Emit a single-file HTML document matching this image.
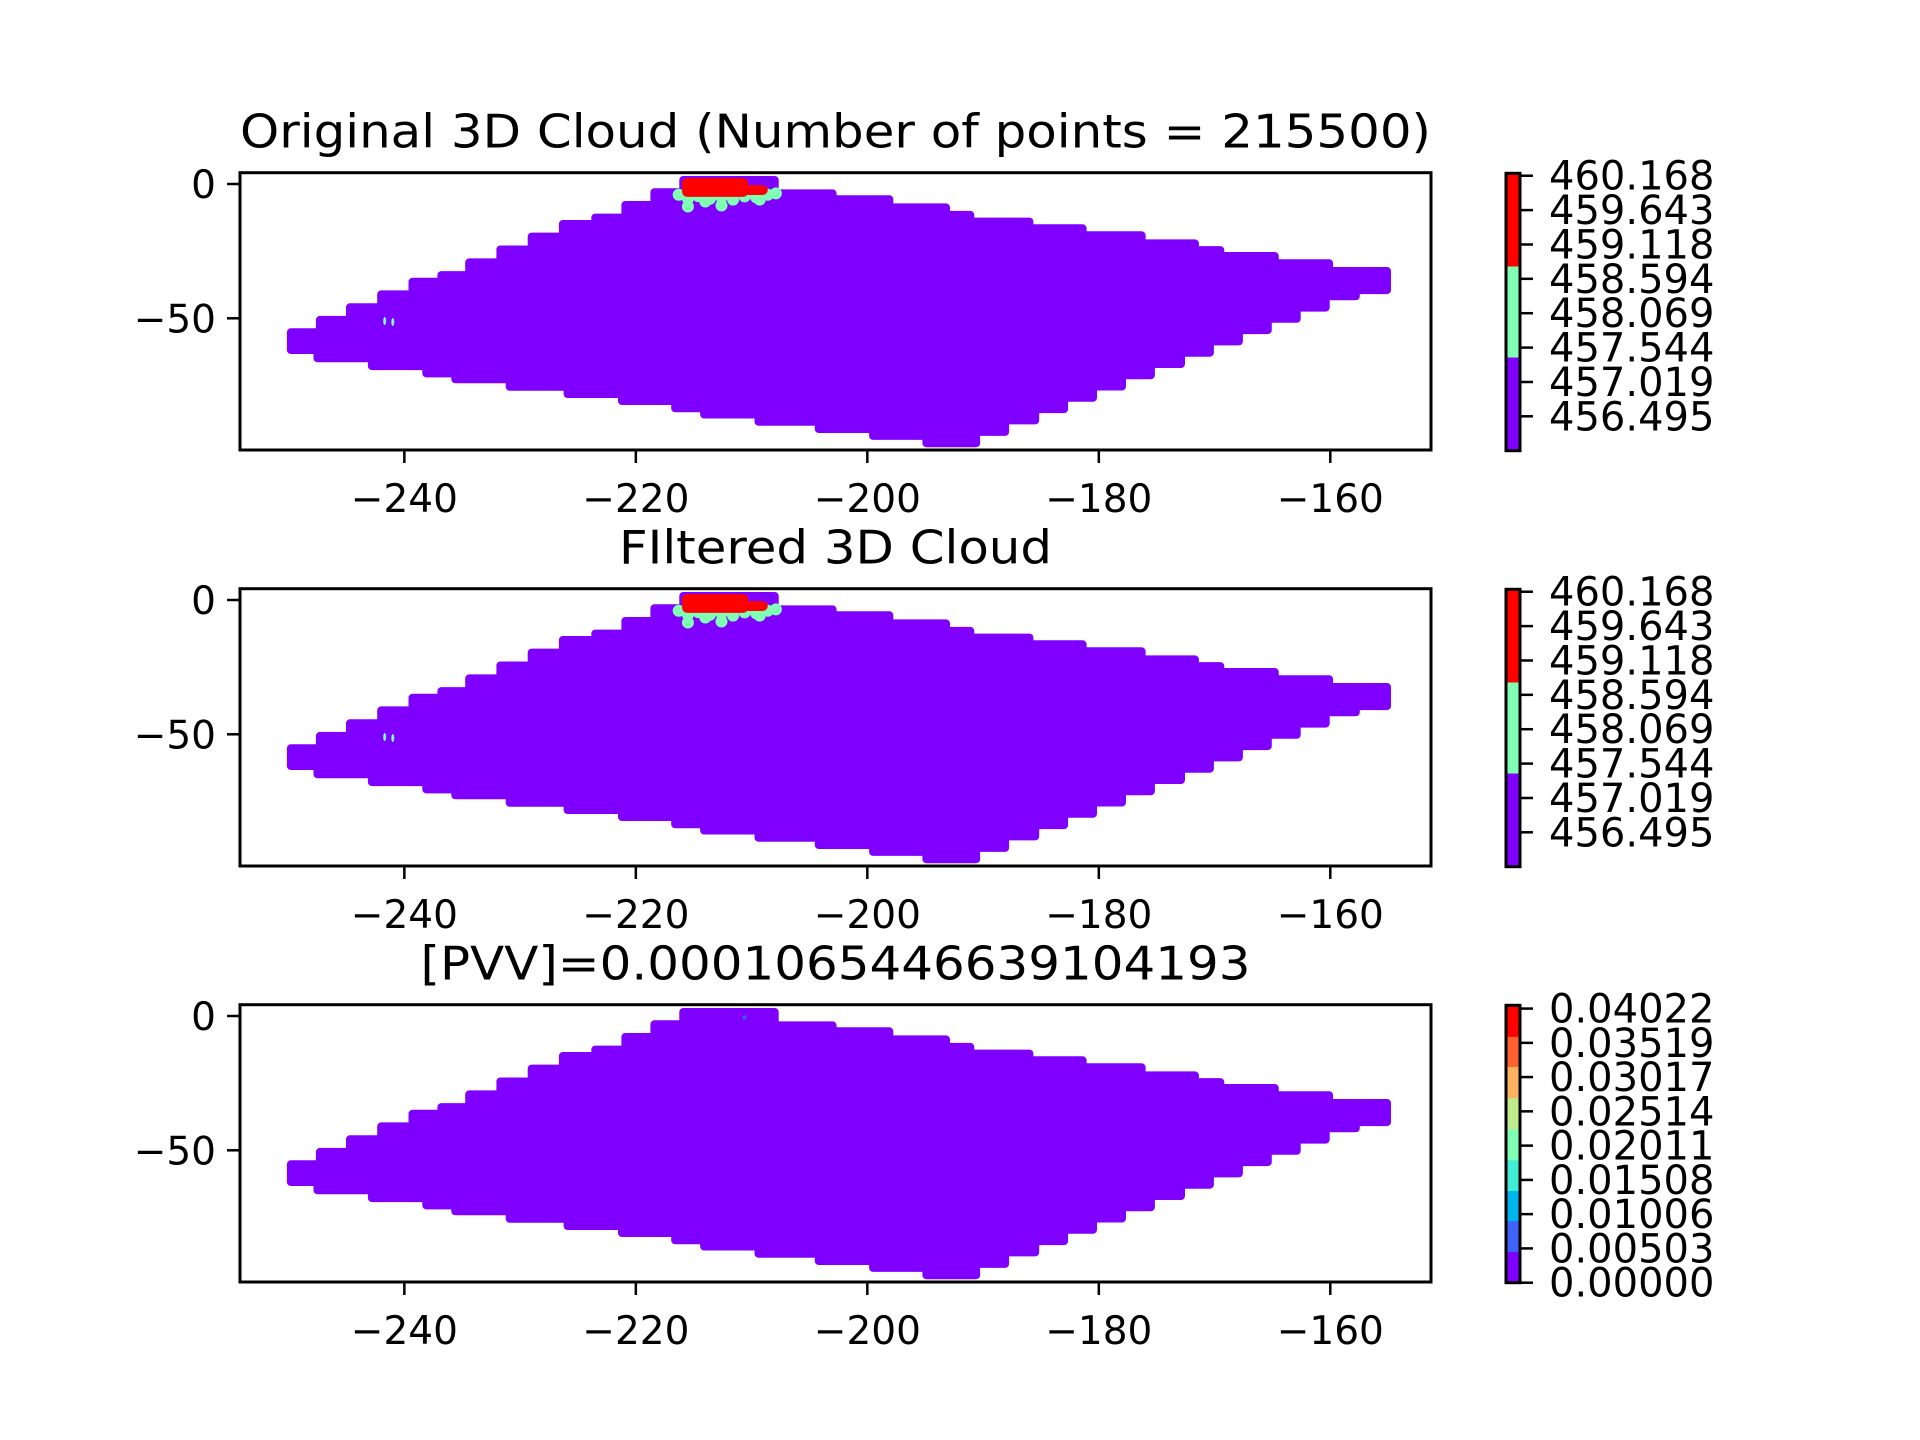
<!DOCTYPE html>
<html><head><meta charset="utf-8"><style>
html,body{margin:0;padding:0;background:#fff;}
svg{display:block;font-family:"DejaVu Sans","Liberation Sans",sans-serif;}
</style></head><body>
<svg id="fig" width="1920" height="1440" viewBox="0 0 1920 1440"></svg>
<script>
const xTicks=[-240,-220,-200,-180,-160];
const yTicks=[0,-50];
const panelTitles=["Original 3D Cloud (Number of points = 215500)","FIltered 3D Cloud","[PVV]=0.0001065446639104193"];
const cloudTopX=[-249.8,-247.3,-244.7,-242.0,-239.3,-236.8,-234.4,-231.7,-229.0,-226.3,-223.5,-220.9,-218.4,-208.0,-203.0,-198.1,-193.2,-191.1,-186.0,-181.4,-176.3,-171.7,-169.5,-164.8,-160.1];
const cloudTopY=[-55.2,-50.6,-45.9,-41.1,-36.4,-33.9,-29.2,-24.4,-19.6,-14.9,-12.5,-7.8,-3.1,-3.5,-5.7,-8.7,-11.5,-14.0,-16.5,-19.1,-22.1,-24.6,-26.8,-29.5,-32.4];
const cloudBotX=[-249.8,-247.5,-242.8,-238.1,-235.6,-230.9,-225.9,-221.2,-216.6,-214.1,-209.4,-204.2,-199.5,-194.9,-190.6,-188.1,-185.5,-183.0,-180.5,-178.0,-175.5,-172.9,-170.4,-167.9,-165.4,-162.9,-160.4,-157.8];
const cloudBotY=[-61.8,-64.9,-67.8,-70.5,-72.7,-75.5,-78.2,-80.8,-83.5,-85.8,-88.5,-91.2,-93.8,-96.5,-92.3,-88.0,-83.8,-79.6,-75.4,-71.2,-67.0,-62.8,-58.6,-54.4,-50.2,-46.0,-41.8,-39.5];
const cloudRightX=-155.1;
const peakTopY=1.5, peakX0=-215.9, peakX1=-208.0;
const redBlockX=[-216.0,-211.0];
const redBlockX2=[-210.3,-208.6];
const redBlockYTop=[2.2,-0.4];
const redBlockYBot=[-4.8,-4.1];
const greenX=[-216.3,-215.5,-214.6,-213.6,-212.6,-211.6,-210.6,-209.6,-208.6,-207.9,-215.5,-212.6,-209.3,-214.0];
const greenY=[-4.0,-5.5,-4.5,-5.5,-5.0,-5.8,-4.6,-5.0,-4.0,-3.5,-8.4,-8.0,-5.8,-6.5];
const smallGreenX=[-241.7,-241.0];
const smallGreenY=[-51.0,-51.4];
const cbTicks1=[460.168,459.643,459.118,458.594,458.069,457.544,457.019,456.495];
const cbBounds1=[455.97,457.40,458.79,460.205];
const cbColors1=["#8000ff","#80ffb4","#ff0000"];
const cbTicks3=[0.04022,0.03519,0.03017,0.02514,0.02011,0.01508,0.01006,0.00503,0.00000];
const cbBounds3=[0,0.00455,0.00911,0.01352,0.01803,0.02258,0.02714,0.03174,0.03615,0.0407];
const cbColors3=["#8000ff","#4062fa","#00b5eb","#40ecd3","#80ffb4","#c0eb8d","#ffb360","#ff6030","#ff0000"];

const NS="http://www.w3.org/2000/svg";
const svg=document.getElementById('fig');
function mk(tag,attrs,parent){const e=document.createElementNS(NS,tag);for(const k in attrs)e.setAttribute(k,attrs[k]);(parent||svg).appendChild(e);return e;}
const AX_L=240,AX_R=1431,XMIN=-254.2,XMAX=-151.3;
function sx(x){return AX_L+(x-XMIN)/(XMAX-XMIN)*(AX_R-AX_L);}
const PANEL_TOPS=[172.7,588.7,1004.7];
const AX_H=277.3;
function syF(top){return y=>top+11.3+(-y)*2.686;}
const titleW=[1191,433,830];

PANEL_TOPS.forEach((top,p)=>{
  const sy=syF(top);
  const g=mk('g',{});
  
  
  const cid='clip'+p;
  const cp=mk('clipPath',{id:cid},g);mk('rect',{x:AX_L,y:top,width:AX_R-AX_L,height:AX_H},cp);
  const t=mk('text',{x:(AX_L+AX_R)/2,y:top-25,'text-anchor':'middle','font-size':46,textLength:titleW[p],lengthAdjust:'spacingAndGlyphs'},g);
  t.textContent=panelTitles[p];
  
  
  let pts=[];
  pts.push([sx(cloudTopX[0]),sy(cloudBotY[0])]);
  for(let i=0;i<cloudTopX.length;i++){
    const nx=i+1<cloudTopX.length?cloudTopX[i+1]:cloudRightX;
    let ty=cloudTopY[i];
    if(i===12){
      pts.push([sx(cloudTopX[i]),sy(ty)]);pts.push([sx(peakX0),sy(ty)]);
      pts.push([sx(peakX0),sy(peakTopY)]);pts.push([sx(peakX1),sy(peakTopY)]);
      pts.push([sx(peakX1),sy(cloudTopY[i+1])]);continue;
    }
    pts.push([sx(cloudTopX[i]),sy(ty)]);pts.push([sx(nx),sy(ty)]);
  }
  const bot=[];
  for(let i=0;i<cloudBotX.length;i++){
    const nx=i+1<cloudBotX.length?cloudBotX[i+1]:cloudRightX;
    bot.push([sx(cloudBotX[i]),sy(cloudBotY[i])]);bot.push([sx(nx),sy(cloudBotY[i])]);
  }
  pts=pts.concat(bot.reverse());
  const cg=mk('g',{'clip-path':'url(#'+cid+')'},g);
  const poly=mk('polygon',{points:pts.map(q=>q[0].toFixed(1)+','+q[1].toFixed(1)).join(' '),fill:'#8000ff',stroke:'#8000ff','stroke-width':8,'stroke-linejoin':'round'},cg);
  
  
  if(p<2){
    for(let i=0;i<greenX.length;i++){
      const c=mk('circle',{cx:sx(greenX[i]),cy:sy(greenY[i]),r:6,fill:'#80ffb4'},cg);
      
      
    }
    for(let i=0;i<smallGreenX.length;i++){
      const c=mk('ellipse',{cx:sx(smallGreenX[i]),cy:sy(smallGreenY[i]),rx:1.5,ry:4,fill:'#80ffb4'},cg);
      
      
    }
    for(let i=0;i<redBlockX.length;i++){
      const x0=sx(redBlockX[i]),x1=sx(redBlockX2[i]),y0=sy(redBlockYTop[i]),y1=sy(redBlockYBot[i]);
      const r=mk('rect',{x:x0,y:y0,width:x1-x0,height:y1-y0,rx:5,fill:'#ff0000'},cg);
      
      
    }
  } else {
    const c=mk('circle',{cx:sx(-210.6),cy:sy(-0.5),r:2,fill:'#4062fa'},cg);
    
    
  }
  const fr=mk('rect',{x:AX_L,y:top,width:AX_R-AX_L,height:AX_H,fill:'none',stroke:'#000','stroke-width':3},g);
  
  
  xTicks.forEach(v=>{
    const x=sx(v);
    mk('line',{x1:x,x2:x,y1:top+AX_H,y2:top+AX_H+13,stroke:'#000','stroke-width':2.5},g);
    const tl=mk('text',{x:x,y:top+AX_H+62,'text-anchor':'middle','font-size':39},g);
    tl.textContent='\u2212'+Math.abs(v);
    
    
  });
  yTicks.forEach(v=>{
    const y=sy(v);
    mk('line',{x1:AX_L-13,x2:AX_L,y1:y,y2:y,stroke:'#000','stroke-width':2.5},g);
    const tl=mk('text',{x:AX_L-24,y:y+14,'text-anchor':'end','font-size':39},g);
    tl.textContent=v<0?'\u2212'+Math.abs(v):String(v);
    
    
  });
  const CB_X=1506,CB_W=14,cbTop=top+0.6,cbBot=top+AX_H+0.7,cbH=cbBot-cbTop;
  const bounds=p<2?cbBounds1:cbBounds3,cols=p<2?cbColors1:cbColors3,ticks=p<2?cbTicks1:cbTicks3;
  const vmin=bounds[0],vmax=bounds[bounds.length-1];
  const cy=v=>cbBot-(v-vmin)/(vmax-vmin)*cbH;
  const cbg=mk('g',{},g);
  
  
  for(let i=0;i<cols.length;i++){
    const y0=cy(bounds[i+1]),y1=cy(bounds[i]);
    const r=mk('rect',{x:CB_X,y:y0,width:CB_W,height:y1-y0+0.5,fill:cols[i]},cbg);
    
    
  }
  mk('rect',{x:CB_X,y:cbTop,width:CB_W,height:cbH,fill:'none',stroke:'#000','stroke-width':3},cbg);
  ticks.forEach(v=>{
    const y=cy(v);
    mk('line',{x1:CB_X+CB_W,x2:CB_X+CB_W+13,y1:y,y2:y,stroke:'#000','stroke-width':2.5},cbg);
    const tl=mk('text',{x:1549,y:y+14,'font-size':40},cbg);
    tl.textContent=p<2?v.toFixed(3):v.toFixed(5);
    
    
  });
});
</script>
</body></html>
